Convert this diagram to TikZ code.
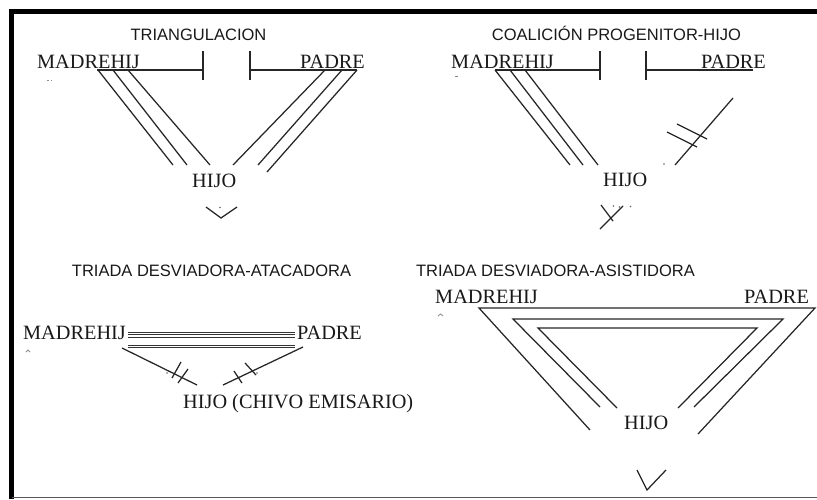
\documentclass[tikz,border=0pt]{standalone}
\usepackage{fontspec}
\setmainfont{Liberation Serif}
\setsansfont{Liberation Sans}
\begin{document}
\begin{tikzpicture}[x=1pt,y=-1pt,
  ln/.style={line width=1.25pt, draw=black!85},
  lbl/.style={inner sep=0pt, anchor=base west, text=black!90, font=\fontsize{20.3}{24}\selectfont},
  ttl/.style={inner sep=0pt, anchor=base, text=black!90, font=\sffamily\fontsize{16.5}{20}\selectfont},
  mk/.style={line width=0.8pt, draw=black!45},
  dotm/.style={fill=black!60}]
\useasboundingbox (0,0) rectangle (817,499);
\fill[white] (0,0) rectangle (817,499);
% frame
\draw[line width=4.5pt] (11.5,499) -- (11.5,11.5) -- (817,11.5);
\draw[line width=1.5pt, black!65] (11.5,497.5) -- (817,497.5);

% ================= Panel 1: TRIANGULACION =================
\node[ttl] (t1) at (198.5,40.5) {TRIANGULACION};
\node[lbl] (m1) at (37,68) {MADREHIJ};
\node[lbl] (p1) at (300,68) {PADRE};
\node[lbl] (h1) at (192,187) {HIJO};
\draw[mk] (47,80) -- (49,80) (50.5,80) -- (52,80);
\coordinate (m1h) at (97,70);  \coordinate (m1t) at (203,70);
\coordinate (p1t) at (250,70); \coordinate (p1h) at (357,70);
\draw[ln] (m1h) -- (m1t);
\draw[ln] ([yshift=-10pt]m1t) -- ([yshift=19pt]m1t);
\draw[ln] ([yshift=-10pt]p1t) -- ([yshift=19pt]p1t);
\draw[ln] (p1t) -- (p1h);
% left triple
\coordinate (a1) at (98,70);  \coordinate (a1e) at (173,165);
\coordinate (a2) at (113,70); \coordinate (a2e) at (187,165);
\coordinate (a3) at (128,70); \coordinate (a3e) at (210,165);
\draw[ln] (a1) -- (a1e);
\draw[ln] (a2) -- (a2e);
\draw[ln] (a3) -- (a3e);
% right triple
\coordinate (b1) at (325,70); \coordinate (b1e) at (233,165);
\coordinate (b2) at (342,70); \coordinate (b2e) at (258,165);
\coordinate (b3) at (357,70); \coordinate (b3e) at (267,172);
\draw[ln] (b1) -- (b1e);
\draw[ln] (b2) -- (b2e);
\draw[ln] (b3) -- (b3e);
% chevron
\coordinate (v1a) at (206,207); \coordinate (v1b) at (221,218); \coordinate (v1c) at (237,207);
\draw[ln] (v1a) -- (v1b) -- (v1c);
\fill[dotm] (220,207.5) circle (0.9pt);

% ================= Panel 2: COALICION =================
\node[ttl] (t2) at (616.5,40.5) {COALICIÓN PROGENITOR-HIJO};
\node[lbl] (m2) at (451,68) {MADREHIJ};
\node[lbl] (p2) at (701,68) {PADRE};
\node[lbl] (h2) at (603,186) {HIJO};
\draw[mk] (455,76) -- (458,76);
\coordinate (m2h) at (495,70);  \coordinate (m2t) at (600,70);
\coordinate (p2t) at (646,70);  \coordinate (p2h) at (753,70);
\draw[ln] (m2h) -- (m2t);
\draw[ln] ([yshift=-10pt]m2t) -- ([yshift=19pt]m2t);
\draw[ln] ([yshift=-10pt]p2t) -- ([yshift=19pt]p2t);
\draw[ln] (p2t) -- (p2h);
\coordinate (c1) at (495,70); \coordinate (c1e) at (570,165);
\coordinate (c2) at (510,70); \coordinate (c2e) at (583,165);
\coordinate (c3) at (525,70); \coordinate (c3e) at (598,165);
\draw[ln] (c1) -- (c1e);
\draw[ln] (c2) -- (c2e);
\draw[ln] (c3) -- (c3e);
\coordinate (d1) at (733,98); \coordinate (d1e) at (675,165);
\draw[ln] (d1) -- (d1e);
\draw[ln] (677,124) -- (707,139);
\draw[ln] (667,132) -- (697,147);
\fill[dotm] (664,164) circle (0.9pt);
% X mark
\coordinate (x1a) at (600,229); \coordinate (x1b) at (623,206);
\coordinate (x2a) at (601,205); \coordinate (x2b) at (613,221);
\draw[ln] (x1a) -- (x1b);
\draw[ln] (x2a) -- (x2b);
\fill[dotm] (613.5,206) circle (0.8pt) (619.5,207) circle (0.8pt) (630.5,206.5) circle (0.8pt);

% ================= Panel 3: ATACADORA =================
\node[ttl] (t3) at (211.5,276.5) {TRIADA DESVIADORA-ATACADORA};
\node[lbl] (m3) at (23,339) {MADREHIJ};
\node[lbl] (p3) at (297,339) {PADRE};
\node[lbl] (h3) at (183,408) {HIJO (CHIVO EMISARIO)};
\draw[mk] (26,352) -- (28,350) -- (30,352);
\coordinate (e1) at (128,332.5); \coordinate (e1e) at (295,332.5);
\coordinate (e2) at (128,334.8); \coordinate (e2e) at (295,334.8);
\coordinate (e3) at (128,337);   \coordinate (e3e) at (295,337);
\coordinate (e4) at (128,345);   \coordinate (e4e) at (295,345);
\coordinate (e5) at (128,347);   \coordinate (e5e) at (295,347);
\foreach \i in {1,...,5} {\draw[line width=0.85pt, draw=black!80] (e\i) -- (e\i e);}
\coordinate (f1) at (122,348); \coordinate (f1e) at (197,385);
\draw[ln] (f1) -- (f1e);
\draw[ln] (172,378) -- (181,362);
\draw[ln] (178,383) -- (188,369);
\fill[dotm] (167,373) circle (0.9pt);
\coordinate (g1) at (303,347); \coordinate (g1e) at (223,385);
\draw[ln] (g1) -- (g1e);
\draw[ln] (234,371) -- (242,383);
\draw[ln] (245,363) -- (256,375);
\fill[dotm] (257,373) circle (0.9pt);

% ================= Panel 4: ASISTIDORA =================
\node[ttl] (t4) at (555.5,276.5) {TRIADA DESVIADORA-ASISTIDORA};
\node[lbl] (m4) at (435,303) {MADREHIJ};
\node[lbl] (p4) at (744,303) {PADRE};
\node[lbl] (h4) at (624,429) {HIJO};
\draw[mk] (438,316) -- (440.5,314) -- (443,316);
% outer
\coordinate (o1) at (479,308); \coordinate (o2) at (815,308);
\coordinate (o1e) at (590,430); \coordinate (o2e) at (698,434);
\draw[ln] (o1e) -- (o1) -- (o2) -- (o2e);
% middle
\coordinate (q1) at (513,319); \coordinate (q2) at (783,319);
\coordinate (q1e) at (600,407); \coordinate (q2e) at (694,407);
\draw[ln] (q1e) -- (q1) -- (q2) -- (q2e);
% inner
\coordinate (r1) at (538,328); \coordinate (r2) at (757,328);
\coordinate (r1e) at (617,408); \coordinate (r2e) at (678,408);
\draw[ln] (r1e) -- (r1) -- (r2) -- (r2e);
% chevron
\coordinate (v4a) at (637,470); \coordinate (v4b) at (647,490); \coordinate (v4c) at (666,470);
\draw[ln] (v4a) -- (v4b) -- (v4c);
\end{tikzpicture}
\end{document}
